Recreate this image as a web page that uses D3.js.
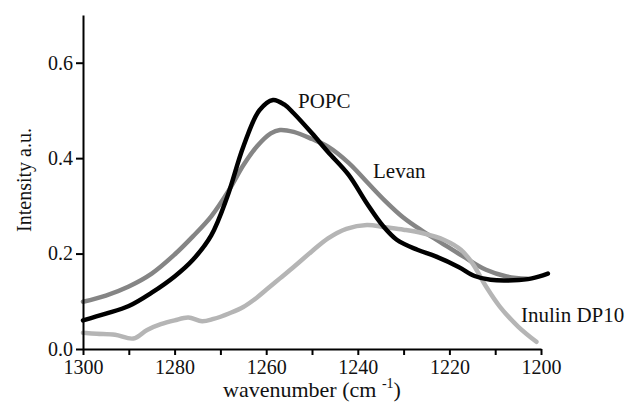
<!DOCTYPE html>
<html>
<head>
<meta charset="utf-8">
<script src="https://cdn.jsdelivr.net/npm/d3@7"></script>
<style>
  html, body { margin: 0; padding: 0; background: #fff; }
  svg { display: block; }
</style>
</head>
<body>
<svg id="chart" width="627" height="408"></svg>
<script>
// ---- data ----
const xTicks = [1300, 1290, 1280, 1270, 1260, 1250, 1240, 1230, 1220, 1210, 1200];
const yTicks = [0.0, 0.2, 0.4, 0.6];

const popcWn  = [1300,1295,1290,1285,1280,1276,1272,1268.5,1265,1261.5,1258.5,1256,1254,1250,1246.5,1242,1238,1234.5,1231.5,1227,1223,1218,1214.5,1211,1206,1202,1198.5];
const popcVal = [0.060,0.074,0.090,0.118,0.152,0.187,0.238,0.319,0.424,0.500,0.522,0.512,0.494,0.452,0.413,0.365,0.305,0.258,0.229,0.208,0.194,0.172,0.153,0.145,0.144,0.148,0.158];

const levanWn  = [1300,1295,1290,1285,1280,1276,1272,1268,1265,1262,1259,1257,1254,1250,1246.5,1242,1238,1234,1230,1226,1222,1217,1212,1207.5,1203];
const levanVal = [0.099,0.112,0.131,0.158,0.198,0.236,0.278,0.335,0.385,0.425,0.452,0.459,0.455,0.440,0.424,0.390,0.350,0.310,0.275,0.248,0.224,0.194,0.166,0.152,0.147];

const inulinWn  = [1300,1297,1293,1289,1286,1283,1280,1277,1274,1271.5,1268,1265,1262,1260,1257,1254,1250,1246.5,1242.5,1238,1234,1230,1226,1221,1217.5,1215,1212,1209,1205,1201];
const inulinVal = [0.034,0.032,0.030,0.022,0.040,0.052,0.060,0.066,0.058,0.063,0.075,0.088,0.108,0.124,0.148,0.172,0.205,0.232,0.252,0.260,0.255,0.250,0.243,0.228,0.208,0.180,0.131,0.089,0.047,0.015];

const seriesNames  = ["Levan", "Inulin DP10", "POPC"];
const seriesColors = ["#858585", "#b5b5b5", "#000000"];

// ---- layout ----
const FONT = '"Liberation Serif"';
const svg = d3.select("#chart");
const plotLeft = 83, plotRight = 541, plotTop = 15, plotBottom = 349;

const x = d3.scaleLinear().domain([1300, 1200]).range([plotLeft, plotRight]);
const y = d3.scaleLinear().domain([0, 0.7]).range([plotBottom, plotTop]);

const series = [
  { name: seriesNames[0], color: seriesColors[0], pts: levanWn.map((w, i) => [w, levanVal[i]]) },
  { name: seriesNames[1], color: seriesColors[1], pts: inulinWn.map((w, i) => [w, inulinVal[i]]) },
  { name: seriesNames[2], color: seriesColors[2], pts: popcWn.map((w, i) => [w, popcVal[i]]) }
];

const line = d3.line()
  .x(d => x(d[0]))
  .y(d => y(d[1]))
  .curve(d3.curveCatmullRom.alpha(0.5));

svg.append("g").selectAll("path")
  .data(series)
  .join("path")
  .attr("d", d => line(d.pts))
  .attr("fill", "none")
  .attr("stroke", d => d.color)
  .attr("stroke-width", 4.5)
  .attr("stroke-linejoin", "round")
  .attr("stroke-linecap", "round");

// axes
const xAxis = d3.axisBottom(x)
  .tickValues(xTicks)
  .tickFormat(d => (d % 20 === 0 ? d : ""))
  .tickSize(6).tickSizeOuter(0).tickPadding(5);

const yAxis = d3.axisLeft(y)
  .tickValues(yTicks)
  .tickFormat(d3.format(".1f"))
  .tickSize(7).tickSizeOuter(0).tickPadding(3);

const gx = svg.append("g").attr("transform", `translate(0,${plotBottom})`).call(xAxis);
const gy = svg.append("g").attr("transform", `translate(${plotLeft},0)`).call(yAxis);

[gx, gy].forEach(g => {
  g.select(".domain").attr("stroke", "#000").attr("stroke-width", 2);
  g.selectAll(".tick line").attr("stroke", "#000").attr("stroke-width", 2);
  g.selectAll(".tick text")
    .style("font-family", FONT)
    .style("font-size", "20px")
    .attr("fill", "#111");
});

// axis titles
const xt = svg.append("text")
  .attr("x", 312).attr("y", 397)
  .attr("text-anchor", "middle")
  .style("font-family", FONT)
  .style("font-size", "22px")
  .attr("fill", "#111");
xt.append("tspan").text("wavenumber (cm ");
xt.append("tspan").style("font-size", "14px").attr("dy", -9).text("-1");
xt.append("tspan").attr("dy", 9).text(")");

svg.append("text")
  .attr("transform", "translate(31,180) rotate(-90)")
  .attr("text-anchor", "middle")
  .style("font-family", FONT)
  .style("font-size", "20px")
  .attr("fill", "#111")
  .text("Intensity a.u.");

// series labels
const labels = [
  { text: seriesNames[2], x: 298, y: 108 },
  { text: seriesNames[0], x: 373, y: 178 },
  { text: seriesNames[1], x: 521, y: 322 }
];
svg.append("g").selectAll("text")
  .data(labels)
  .join("text")
  .attr("x", d => d.x).attr("y", d => d.y)
  .style("font-family", FONT)
  .style("font-size", "21px")
  .attr("fill", "#111")
  .text(d => d.text);
</script>
</body>
</html>
